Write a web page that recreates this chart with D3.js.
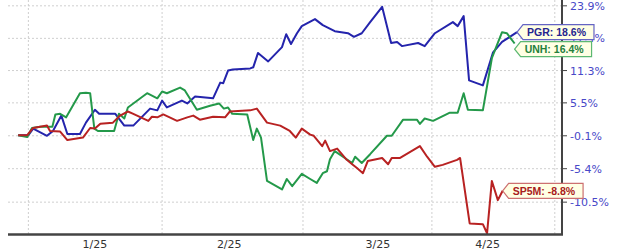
<!DOCTYPE html>
<html lang="en">
<head>
  <meta charset="UTF-8">
  <title>PGR vs UNH vs SP5M</title>
  <script src="https://d3js.org/d3.v7.min.js"></script>
  <style>
    body { margin: 0; background: #fff; }
    svg { display: block; font-family: "DejaVu Sans", Verdana, sans-serif; }
  </style>
</head>
<body>
  <div id="chart"></div>

  <script>
    // t = trading-session position, v = % change since start
    const pgrData = [
      [0, 0], [1.7, 0], [2.5, 1.1], [4.8, -0.1], [5.8, 0.7], [7.2, 3.3], [8.2, 0.2],
      [10.3, 0.2], [11.3, 2.1], [12.8, 4.3], [13.5, 3.6], [16.2, 3.6], [17.7, 1.6],
      [19.2, 1.6], [22, 4.5], [23.2, 4.2], [24, 5.9], [24.8, 4.7], [27.3, 5.9],
      [28.2, 5.4], [29.5, 6.6], [32.5, 6.3], [33.7, 9.1], [34.2, 9.0], [35, 11.3],
      [35.8, 11.5], [38.7, 11.7], [39.2, 11.9], [40, 14.6], [41.7, 13.0], [44, 15.7],
      [44.7, 18.2], [45.5, 16.3], [46.5, 18.4], [47.3, 19.8], [49.5, 21.2], [50.8, 20.0],
      [52.8, 18.8], [55, 18.4], [56, 17.7], [57.3, 18.4], [58.7, 20.6], [60.7, 23.7],
      [62.2, 16.5], [63.2, 16.7], [64, 15.9], [66.7, 16.5], [67.8, 15.9], [69.5, 18.4],
      [72.5, 20.6], [73.3, 19.8], [74.3, 21.8], [75.2, 9.5], [77.5, 8.6], [79.2, 14.7],
      [80.7, 16.7], [83.2, 18.6]
    ];
    const unhData = [
      [0, 0], [1.5, -0.3], [2.3, 1.2], [3.7, 1.4], [5.7, 1.4], [6.2, 3.5], [7, 3.6],
      [8, 3.0], [10.3, 7.2], [11.3, 7.3], [12, 7.2], [12.7, 1.1], [13.3, 0.7], [16, 0.7],
      [16.8, 3.6], [17.7, 2.8], [18.3, 4.7], [21.5, 7.2], [23.2, 6.3], [24, 7.5],
      [24.8, 7.2], [27, 8.2], [27.8, 7.7], [29.8, 4.3], [32, 5.0], [33.5, 5.4],
      [34.3, 4.5], [35, 4.7], [35.7, 3.6], [38.2, 3.5], [39.2, -0.8], [39.8, 1.1],
      [40.5, -0.4], [41.5, -7.3], [44, -8.6], [44.8, -7.0], [45.7, -8.1], [47.3, -6.2],
      [48.7, -7.0], [49.8, -7.6], [50.8, -6.1], [51.5, -5.8], [52, -3.9], [52.8, -2.6],
      [55.7, -4.5], [56.2, -3.5], [57.3, -4.5], [58.7, -3.1], [61.5, -0.1], [62.3, -0.1],
      [64.2, 2.6], [66.5, 2.6], [67, 1.9], [67.8, 2.8], [69.2, 2.4], [72, 3.8],
      [73.3, 3.8], [74.3, 7.2], [75, 4.3], [77.5, 4.2], [79, 13.6], [80.7, 18.6],
      [81.5, 18.4], [82.8, 16.4]
    ];
    const spData = [
      [0, 0], [1.5, 0], [2.5, 1.2], [4.8, 1.6], [5.3, 0.7], [7, 0.6], [8.2, -0.8],
      [10.8, -0.4], [12, 1.2], [12.8, 1.1], [13.7, 1.9], [15.8, 2.1], [17, 3.3],
      [18.3, 4.0], [19.2, 3.6], [21.7, 2.4], [22.3, 3.1], [23.2, 3.0], [24.2, 3.5],
      [26.5, 2.4], [28.2, 3.0], [29.2, 3.3], [30.3, 2.6], [32.5, 3.1], [34.5, 3.0],
      [35.3, 4.0], [38.7, 4.2], [39.8, 4.5], [41.5, 2.1], [43.7, 1.6], [45.3, 0.7],
      [46.3, -0.4], [47.3, 1.1], [48.7, 0.1], [49.3, -0.1], [50.7, -1.8], [51.2, -0.9],
      [52, -2.6], [53.2, -2.2], [54.8, -4.0], [55.7, -4.7], [56.5, -5.3], [57.5, -6.1],
      [58.3, -4.2], [60.7, -3.7], [61.7, -4.7], [62.3, -3.7], [63.7, -3.7], [67, -1.8],
      [68.2, -3.5], [69.5, -5.1], [70.8, -4.8], [73.2, -4.0], [73.7, -3.7], [75.3, -13.6],
      [77.5, -13.7], [78.2, -15.0], [79, -7.3], [80, -10.2], [80.8, -8.8]
    ];

    const series = [
      { name: "PGR", data: pgrData, color: "#2424ac", text: "#25258f", border: "#6464c4" },
      { name: "UNH", data: unhData, color: "#24994a", text: "#24803c", border: "#5cb872" },
      { name: "SP5M", data: spData, color: "#b82222", text: "#a82020", border: "#cc7070" }
    ];

    const yTicks = [23.9, 17.4, 11.3, 5.5, -0.1, -5.4, -10.5];
    const monthGrid = [1.7, 24, 47.5, 69, 89.5];
    const monthLabelPos = [12.8, 35.2, 60, 78.3];
    const monthLabels = ["1/25", "2/25", "3/25", "4/25"];

    const width = 620, height = 250;
    const plotLeft = 8, plotRight = 562, plotTop = 0, plotBottom = 234;

    const svg = d3.select("#chart").append("svg")
      .attr("width", width).attr("height", height);

    const x = d3.scaleLinear().domain([-1.7, 90.7]).range([plotLeft, plotRight]);
    // log scale on growth factor (100 + %)
    const y = d3.scaleLog().domain([84.9, 125.1]).range([plotBottom, plotTop]);

    // grid
    svg.append("g").selectAll("line")
      .data(yTicks)
      .enter().append("line")
      .attr("x1", plotLeft).attr("x2", plotRight)
      .attr("y1", d => y(100 + d)).attr("y2", d => y(100 + d))
      .attr("stroke", "#cfcfcf").attr("stroke-dasharray", "2,2");

    svg.append("g").selectAll("line")
      .data(monthGrid)
      .enter().append("line")
      .attr("x1", d => x(d)).attr("x2", d => x(d))
      .attr("y1", plotTop).attr("y2", plotBottom)
      .attr("stroke", "#cfcfcf").attr("stroke-dasharray", "2,2");

    // lines
    const line = d3.line()
      .x(d => x(d[0]))
      .y(d => y(100 + d[1]));

    svg.append("g").selectAll("path")
      .data(series)
      .enter().append("path")
      .attr("d", d => line(d.data))
      .attr("fill", "none")
      .attr("stroke", d => d.color)
      .attr("stroke-width", 2)
      .attr("stroke-linejoin", "round");

    // axes
    svg.append("line")
      .attr("x1", plotLeft).attr("x2", plotRight + 1)
      .attr("y1", plotBottom + 0.5).attr("y2", plotBottom + 0.5)
      .attr("stroke", "#444").attr("stroke-width", 2.5);
    svg.append("line")
      .attr("x1", plotRight).attr("x2", plotRight)
      .attr("y1", plotTop).attr("y2", plotBottom + 1)
      .attr("stroke", "#444").attr("stroke-width", 2);

    const yAxis = svg.append("g");
    yAxis.selectAll("line")
      .data(yTicks)
      .enter().append("line")
      .attr("x1", plotRight).attr("x2", plotRight + 5)
      .attr("y1", d => y(100 + d)).attr("y2", d => y(100 + d))
      .attr("stroke", "#444");
    yAxis.selectAll("text")
      .data(yTicks)
      .enter().append("text")
      .attr("x", plotRight + 8)
      .attr("y", d => y(100 + d))
      .attr("dy", "0.36em")
      .attr("font-size", "11px")
      .attr("fill", "#4848c8")
      .text(d => d.toFixed(1) + "%");

    svg.append("g").selectAll("text")
      .data(monthLabels)
      .enter().append("text")
      .attr("x", (d, i) => x(monthLabelPos[i]))
      .attr("y", 248)
      .attr("text-anchor", "middle")
      .attr("font-size", "11px")
      .attr("fill", "#333")
      .text(d => d);

    // end labels
    const boxH = 15, tip = 6;
    const labels = series.map(s => {
      const last = s.data[s.data.length - 1];
      return { s: s, v: last[1], x0: x(last[0]), cy: y(100 + last[1]) };
    }).sort((a, b) => a.cy - b.cy);
    let prevBottom = -Infinity;
    labels.forEach(l => {
      l.boxTop = Math.max(l.cy - boxH / 2, prevBottom + 2);
      prevBottom = l.boxTop + boxH;
    });

    const lg = svg.append("g").selectAll("g")
      .data(labels)
      .enter().append("g");
    lg.append("path").attr("class", "box");
    lg.append("text")
      .attr("x", d => d.x0 + tip + 4)
      .attr("y", d => d.boxTop + boxH / 2)
      .attr("dy", "0.36em")
      .attr("font-family", "'Liberation Sans', Arial, sans-serif")
      .attr("font-size", "10.5px")
      .attr("font-weight", "bold")
      .attr("fill", d => d.s.text)
      .text(d => d.s.name + ": " + d.v.toFixed(1) + "%");
    lg.each(function(d) {
      const g = d3.select(this);
      const w = g.select("text").node().getComputedTextLength() + tip + 12;
      const x0 = d.x0, t0 = d.boxTop, b0 = d.boxTop + boxH;
      g.select("path.box")
        .attr("d", `M${x0},${t0 + boxH / 2} L${x0 + tip},${t0} L${x0 + w},${t0} L${x0 + w},${b0} L${x0 + tip},${b0} Z`)
        .attr("fill", "#ffffe4")
        .attr("stroke", d.s.border)
        .attr("stroke-width", 1.2);
    });
  </script>
</body>
</html>
